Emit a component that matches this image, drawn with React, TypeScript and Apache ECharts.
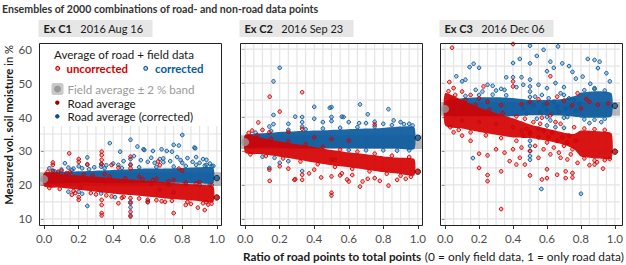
import React, { useEffect, useRef } from "react";
import * as echarts from "echarts";

// ---------- data ----------
const panelIds = ["Ex C1", "Ex C2", "Ex C3"];
const panelDates = ["2016 Aug 16", "2016 Sep 23", "2016 Dec 06"];
const fieldAvg = [21.7, 32.6, 42.4];
const bandHalf = 2;
const roadAvg = [16.3, 23.9, 29.8];
const roadAvgCorrected = [22.0, 33.9, 43.3];
const xTicks = [0, 0.2, 0.4, 0.6, 0.8, 1];
const yTicks = [10, 20, 30, 40, 50, 60];
const gridX = [0, 0.05, 0.1, 0.15, 0.2, 0.25, 0.3, 0.35, 0.4, 0.45, 0.5, 0.55, 0.6, 0.65, 0.7, 0.75, 0.8, 0.85, 0.9, 0.95, 1];
const gridY = [10, 15, 20, 25, 30, 35, 40, 45, 50, 55, 60];

// dense cores: [ratio, low, high]
const coreRedC1 = [[0.0, 19.5, 23.6], [0.1, 19.2, 23.2], [0.2, 18.6, 22.8], [0.3, 18.0, 22.4], [0.4, 17.4, 22.0], [0.5, 17.0, 21.6], [0.6, 16.5, 21.2], [0.7, 16.0, 20.8], [0.8, 15.6, 20.4], [0.9, 15.2, 20.0], [0.98, 15.0, 19.6]];
const coreBlueC1 = [[0.0, 20.5, 23.4], [0.1, 20.5, 23.8], [0.2, 20.6, 24.0], [0.3, 20.6, 24.2], [0.4, 20.5, 24.4], [0.5, 20.5, 24.6], [0.6, 20.6, 24.8], [0.7, 20.6, 24.8], [0.8, 20.6, 25.0], [0.9, 20.5, 25.2], [0.98, 20.5, 25.0]];
const coreRedC2 = [[0.0, 29.5, 34.8], [0.1, 29.0, 33.8], [0.2, 28.3, 32.8], [0.3, 27.5, 32.0], [0.4, 26.6, 31.2], [0.5, 25.8, 30.3], [0.6, 25.2, 29.6], [0.7, 24.5, 29.0], [0.8, 23.8, 28.4], [0.9, 23.2, 28.0], [0.98, 22.8, 27.6]];
const coreBlueC2 = [[0.0, 31.0, 34.6], [0.1, 31.0, 35.2], [0.2, 30.9, 35.6], [0.3, 30.8, 35.8], [0.4, 30.8, 36.0], [0.5, 30.8, 36.2], [0.6, 30.8, 36.4], [0.7, 30.7, 36.6], [0.8, 30.7, 36.8], [0.9, 30.6, 37.2], [0.98, 30.6, 37.0]];
const coreRedC3 = [[0.0, 37.5, 47.0], [0.1, 36.6, 45.0], [0.2, 35.6, 42.8], [0.3, 34.8, 41.2], [0.4, 34.0, 39.6], [0.5, 33.8, 37.8], [0.6, 33.0, 36.6], [0.7, 31.8, 35.4], [0.76, 30.5, 35.0], [0.8, 28.4, 36.0], [0.9, 27.8, 35.8], [0.98, 27.8, 35.2]];
const coreBlueC3 = [[0.0, 40.5, 44.5], [0.1, 40.2, 45.5], [0.2, 40.2, 45.8], [0.3, 40.2, 45.8], [0.4, 40.2, 45.6], [0.5, 40.6, 45.0], [0.6, 40.6, 45.0], [0.7, 40.4, 45.4], [0.78, 40.0, 46.5], [0.8, 39.8, 47.2], [0.9, 39.8, 47.6], [0.98, 40.2, 47.0]];

// individual points: [ratio, soil moisture]
const ptsBlueC1 = [[0.03, 24.9], [0.05, 24.2], [0.08, 23.9], [0.1, 24.5], [0.12, 26.4], [0.14, 25.1], [0.14, 18.0], [0.17, 24.8], [0.2, 18.0], [0.21, 19.2], [0.2, 25.5], [0.22, 17.4], [0.22, 24.9], [0.25, 28.1], [0.25, 13.8], [0.25, 26.0], [0.29, 25.2], [0.33, 26.2], [0.33, 25.4], [0.33, 17.5], [0.36, 25.8], [0.38, 32.3], [0.4, 26.3], [0.41, 16.4], [0.43, 25.9], [0.44, 29.8], [0.46, 27.0], [0.5, 33.3], [0.5, 11.0], [0.5, 13.4], [0.5, 15.0], [0.5, 27.6], [0.5, 26.0], [0.52, 28.5], [0.54, 31.3], [0.56, 27.3], [0.575, 30.5], [0.58, 30.3], [0.6, 15.1], [0.6, 26.8], [0.62, 28.0], [0.63, 30.0], [0.64, 26.5], [0.67, 27.6], [0.67, 18.6], [0.68, 30.5], [0.69, 26.7], [0.69, 27.8], [0.71, 30.0], [0.73, 27.0], [0.74, 29.8], [0.75, 31.8], [0.75, 17.8], [0.77, 28.2], [0.78, 31.6], [0.79, 27.3], [0.8, 34.7], [0.8, 26.5], [0.83, 27.9], [0.86, 26.8], [0.875, 30.8], [0.87, 31.0], [0.88, 28.2], [0.9, 26.5], [0.92, 27.6], [0.94, 27.4], [0.94, 25.9], [0.96, 26.3], [0.98, 25.6]];
const edgeBlueC1 = [[0.06, 24.0], [0.16, 24.4], [0.26, 24.6], [0.35, 24.9], [0.45, 25.0], [0.55, 25.2], [0.65, 25.3], [0.75, 25.4], [0.82, 25.6], [0.88, 25.9], [0.93, 25.7], [0.97, 25.5], [0.62, 20.2], [0.72, 20.1], [0.82, 20.2], [0.9, 20.0], [0.96, 20.1]];
const ptsRedC1 = [[0.05, 26.6], [0.05, 25.9], [0.05, 24.0], [0.1, 24.2], [0.145, 29.3], [0.15, 23.8], [0.16, 17.1], [0.18, 17.6], [0.2, 27.6], [0.2, 26.8], [0.2, 16.4], [0.2, 15.6], [0.25, 26.0], [0.3, 17.2], [0.333, 29.8], [0.333, 28.8], [0.333, 27.4], [0.333, 26.1], [0.333, 15.6], [0.333, 14.1], [0.333, 11.7], [0.333, 11.0], [0.35, 23.2], [0.39, 25.9], [0.39, 16.6], [0.43, 25.1], [0.43, 14.6], [0.45, 16.2], [0.5, 28.3], [0.5, 25.9], [0.5, 24.9], [0.5, 16.1], [0.5, 14.6], [0.5, 12.1], [0.5, 10.7], [0.55, 22.4], [0.6, 15.6], [0.6, 14.9], [0.65, 21.8], [0.66, 26.9], [0.67, 25.8], [0.68, 15.2], [0.7, 15.0], [0.75, 21.5], [0.75, 11.7], [0.78, 24.8], [0.8, 24.2], [0.82, 14.1], [0.85, 14.4], [0.89, 13.3], [0.9, 20.8], [0.93, 12.6], [0.94, 14.9], [0.95, 14.2]];
const edgeRedC1 = [[0.02, 23.9], [0.08, 23.6], [0.13, 23.5], [0.23, 23.1], [0.28, 22.8], [0.38, 22.4], [0.47, 22.0], [0.57, 21.7], [0.63, 21.4], [0.72, 21.1], [0.82, 20.7], [0.88, 20.4], [0.97, 20.0], [0.03, 19.1], [0.09, 18.8], [0.17, 18.2], [0.27, 17.6], [0.36, 16.9], [0.46, 16.5], [0.55, 16.0], [0.65, 15.5], [0.74, 15.3], [0.83, 15.0], [0.92, 14.6], [0.97, 14.5]];
const ptsBlueC2 = [[0.2, 54.5], [0.164, 50.5], [0.164, 40.6], [0.164, 37.9], [0.4, 43.0], [0.49, 42.7], [0.5, 42.9], [0.665, 43.7], [0.71, 40.8], [0.83, 42.3], [0.29, 40.1], [0.5, 40.0], [0.56, 40.1], [0.57, 40.0], [0.33, 40.0], [0.33, 38.5], [0.33, 37.2], [0.14, 37.2], [0.25, 38.0], [0.4, 39.5], [0.45, 38.5], [0.5, 38.8], [0.6, 38.5], [0.66, 38.2], [0.7, 38.2], [0.75, 38.6], [0.8, 38.0], [0.86, 39.0], [0.9, 38.5], [0.95, 38.0], [0.33, 24.1], [0.14, 25.0], [0.2, 26.5], [0.25, 27.0], [0.5, 27.5], [0.52, 27.4], [0.17, 28.0], [0.1, 28.3]];
const edgeBlueC2 = [[0.06, 35.4], [0.15, 35.9], [0.25, 36.2], [0.35, 36.4], [0.45, 36.6], [0.55, 36.8], [0.65, 37.0], [0.75, 37.2], [0.85, 37.6], [0.92, 37.9], [0.97, 37.5], [0.6, 30.3], [0.7, 30.2], [0.8, 30.2], [0.88, 30.1], [0.95, 30.2]];
const ptsRedC2 = [[0.142, 46.0], [0.33, 47.3], [0.2, 41.6], [0.076, 38.4], [0.04, 36.0], [0.1, 36.2], [0.14, 35.5], [0.25, 35.6], [0.33, 36.5], [0.4, 34.0], [0.5, 33.5], [0.6, 33.0], [0.75, 37.8], [0.142, 21.2], [0.285, 21.5], [0.33, 21.5], [0.37, 23.4], [0.44, 22.2], [0.29, 21.7], [0.5, 17.7], [0.5, 16.9], [0.83, 19.8], [0.665, 19.5], [0.59, 21.6], [0.62, 22.9], [0.56, 23.4], [0.6, 21.0], [0.68, 21.0], [0.14, 24.5], [0.2, 25.5], [0.25, 24.8], [0.33, 23.0], [0.4, 24.5], [0.5, 22.5], [0.55, 22.8], [0.71, 21.8], [0.75, 22.0], [0.78, 21.2], [0.88, 21.5], [0.93, 21.8]];
const edgeRedC2 = [[0.02, 35.3], [0.07, 34.6], [0.15, 33.6], [0.25, 32.8], [0.35, 32.0], [0.45, 31.2], [0.55, 30.4], [0.65, 29.8], [0.75, 29.2], [0.85, 28.6], [0.95, 28.2], [0.03, 29.0], [0.12, 28.5], [0.22, 27.8], [0.32, 26.9], [0.42, 26.1], [0.52, 25.3], [0.62, 24.7], [0.72, 24.0], [0.82, 23.3], [0.9, 22.7], [0.96, 22.4]];
const ptsBlueC3 = [[0.168, 55.7], [0.144, 54.7], [0.2, 54.5], [0.4, 55.9], [0.44, 57.1], [0.36, 51.7], [0.4, 51.7], [0.45, 51.7], [0.066, 52.0], [0.1, 50.5], [0.12, 51.0], [0.25, 49.5], [0.28, 49.2], [0.33, 48.3], [0.35, 48.0], [0.5, 61.0], [0.58, 59.8], [0.665, 60.8], [0.54, 58.0], [0.5, 55.8], [0.62, 56.3], [0.69, 55.8], [0.75, 53.3], [0.84, 57.1], [0.88, 56.8], [0.91, 56.3], [0.9, 54.4], [0.95, 52.9], [0.97, 50.5], [0.6, 53.5], [0.64, 54.5], [0.73, 55.0], [0.81, 51.9], [0.77, 51.3], [0.855, 49.8], [0.88, 48.5], [0.5, 51.0], [0.5, 49.0], [0.5, 47.5], [0.5, 45.9], [0.55, 49.5], [0.6, 48.5], [0.65, 50.0], [0.7, 48.8], [0.18, 48.0], [0.22, 47.5], [0.3, 47.8], [0.42, 48.8], [0.46, 49.5], [0.164, 27.9], [0.567, 18.8], [0.8, 17.4], [0.5, 35.0], [0.5, 33.0], [0.5, 31.5], [0.5, 30.0], [0.5, 28.5], [0.5, 27.4], [0.45, 36.0], [0.55, 36.5], [0.6, 37.5], [0.65, 37.0], [0.7, 36.8], [0.3, 38.0], [0.2, 38.5], [0.1, 39.0], [0.85, 38.2], [0.92, 38.5], [0.4, 37.0], [0.48, 41.0], [0.52, 43.5], [0.54, 39.5], [0.57, 46.5], [0.6, 42.0], [0.62, 39.0], [0.64, 44.5], [0.67, 41.5], [0.7, 46.5], [0.72, 40.0], [0.74, 43.0], [0.76, 45.0], [0.46, 42.5], [0.49, 44.0], [0.53, 46.0], [0.56, 41.5], [0.58, 43.5], [0.61, 45.5], [0.63, 41.0], [0.66, 43.0], [0.68, 47.0], [0.71, 42.5], [0.73, 45.5], [0.77, 42.0], [0.79, 44.0]];
const edgeBlueC3 = [[0.04, 45.2], [0.12, 46.2], [0.2, 46.5], [0.28, 46.6], [0.36, 46.4], [0.82, 47.9], [0.88, 48.2], [0.94, 47.8], [0.82, 39.3], [0.88, 39.2], [0.94, 39.5], [0.6, 40.0], [0.7, 39.8]];
const ptsRedC3 = [[0.041, 60.4], [0.4, 61.5], [0.025, 50.3], [0.226, 49.0], [0.4, 50.5], [0.4, 49.0], [0.05, 48.5], [0.1, 47.5], [0.15, 46.5], [0.2, 45.5], [0.25, 44.5], [0.33, 43.5], [0.45, 43.8], [0.5, 44.5], [0.55, 45.2], [0.6, 44.0], [0.62, 52.0], [0.66, 46.0], [0.7, 44.8], [0.75, 43.5], [0.78, 47.0], [0.8, 42.5], [0.83, 45.3], [0.85, 44.5], [0.9, 43.6], [0.96, 44.0], [0.2, 29.2], [0.25, 28.7], [0.2, 25.0], [0.25, 22.9], [0.25, 21.1], [0.33, 24.0], [0.38, 27.0], [0.42, 26.0], [0.44, 28.0], [0.47, 26.0], [0.33, 12.9], [0.5, 22.8], [0.57, 21.6], [0.6, 24.6], [0.66, 23.0], [0.75, 23.5], [0.75, 22.2], [0.93, 24.8], [0.895, 26.7], [0.71, 24.0], [0.71, 22.0], [0.6, 22.0], [0.3, 30.5], [0.35, 29.5], [0.15, 33.0], [0.1, 34.5], [0.05, 35.5], [0.55, 28.0], [0.5, 30.0], [0.62, 29.0], [0.68, 28.0], [0.72, 27.5], [0.78, 26.5], [0.85, 25.8], [0.88, 26.0], [0.45, 31.0], [0.4, 30.5], [0.48, 36.5], [0.52, 38.5], [0.55, 34.0], [0.58, 36.0], [0.6, 32.5], [0.63, 35.5], [0.66, 33.0], [0.68, 38.0], [0.7, 31.5], [0.73, 34.5], [0.75, 30.5], [0.76, 37.0], [0.46, 34.5], [0.5, 35.5], [0.53, 31.5], [0.56, 38.0], [0.58, 30.5], [0.61, 34.0], [0.64, 31.0], [0.65, 38.5], [0.67, 29.5], [0.69, 34.0], [0.72, 32.5], [0.74, 29.0], [0.77, 33.0], [0.47, 39.5], [0.57, 39.8], [0.62, 40.5]];
const edgeRedC3 = [[0.02, 47.6], [0.06, 46.5], [0.12, 45.0], [0.18, 43.6], [0.26, 42.2], [0.34, 41.2], [0.42, 40.2], [0.82, 36.6], [0.88, 36.4], [0.94, 36.2], [0.03, 37.0], [0.08, 36.2], [0.15, 35.5], [0.24, 34.6], [0.33, 33.8], [0.42, 33.0], [0.82, 27.8], [0.88, 27.2], [0.94, 27.3], [0.97, 27.6]];

const coresRed = [coreRedC1, coreRedC2, coreRedC3];
const coresBlue = [coreBlueC1, coreBlueC2, coreBlueC3];
const ptsRed = [ptsRedC1.concat(edgeRedC1), ptsRedC2.concat(edgeRedC2), ptsRedC3.concat(edgeRedC3)];
const ptsBlue = [ptsBlueC1.concat(edgeBlueC1), ptsBlueC2.concat(edgeBlueC2), ptsBlueC3.concat(edgeBlueC3)];

// ---------- layout / style ----------
const FONT = "Lato, 'Noto Sans', sans-serif";
const RED = "#d50000";
const BLUE = "#0a5a9e";
const PANEL_LEFT = [39, 240, 440];
const PANEL_TOP = 43;
const PANEL_W = 183;
const PANEL_H = 183;
const X_MIN = -0.03;
const X_MAX = 1.03;
const Y_MIN = 7.9;
const Y_MAX = 61.8;
const FS = 11.6;

function buildOption() {
  const grid: any[] = [];
  const xAxis: any[] = [];
  const yAxis: any[] = [];
  const series: any[] = [];
  const graphic: any[] = [];

  for (let i = 0; i < 3; i++) {
    grid.push({ left: PANEL_LEFT[i], top: PANEL_TOP, width: PANEL_W, height: PANEL_H, containLabel: false });
    xAxis.push({
      type: "value", gridIndex: i, min: X_MIN, max: X_MAX,
      axisLine: { show: false },
      axisTick: { show: true, customValues: xTicks, length: 3, lineStyle: { color: "#333", width: 1 } },
      axisLabel: { show: true, customValues: xTicks, formatter: (v: number) => v.toFixed(1), fontSize: FS, fontFamily: FONT, color: "#4d4d4d", margin: 6 },
      splitLine: { show: false },
    });
    yAxis.push({
      type: "value", gridIndex: i, min: Y_MIN, max: Y_MAX,
      axisLine: { show: false },
      axisTick: { show: true, customValues: yTicks, length: 3, lineStyle: { color: "#333", width: 1 } },
      axisLabel: { show: i === 0, customValues: yTicks, fontSize: FS, fontFamily: FONT, color: "#4d4d4d", margin: 7 },
      splitLine: { show: false },
    });

    const base = { xAxisIndex: i, yAxisIndex: i, silent: true, animation: false };
    // grid lines
    series.push({
      ...base, type: "custom", z: 1,
      data: gridX.map((v) => [v, Y_MIN, Y_MAX]),
      encode: { x: 0, y: [1, 2] },
      renderItem: (p: any, api: any) => {
        const a = api.coord([api.value(0), api.value(1)]);
        const b = api.coord([api.value(0), api.value(2)]);
        return { type: "line", shape: { x1: a[0], y1: a[1], x2: b[0], y2: b[1] }, style: { stroke: "#e4e4e4", lineWidth: 1.2 } };
      },
    });
    series.push({
      ...base, type: "custom", z: 1,
      data: gridY.map((v) => [X_MIN, X_MAX, v]),
      encode: { x: [0, 1], y: 2 },
      renderItem: (p: any, api: any) => {
        const a = api.coord([api.value(0), api.value(2)]);
        const b = api.coord([api.value(1), api.value(2)]);
        return { type: "line", shape: { x1: a[0], y1: a[1], x2: b[0], y2: b[1] }, style: { stroke: "#e4e4e4", lineWidth: 1.2 } };
      },
    });
    // field average band
    series.push({
      ...base, type: "custom", z: 2,
      data: [[X_MIN, X_MAX, fieldAvg[i] - bandHalf, fieldAvg[i] + bandHalf]],
      encode: { x: [0, 1], y: [2, 3] },
      renderItem: (p: any, api: any) => {
        const a = api.coord([api.value(0), api.value(3)]);
        const b = api.coord([api.value(1), api.value(2)]);
        return { type: "rect", shape: { x: a[0], y: a[1], width: b[0] - a[0], height: b[1] - a[1] }, style: { fill: "rgba(140,140,140,0.6)" } };
      },
    });
    const corePoly = (core: number[][], fill: string, z: number) => ({
      ...base, type: "custom", z,
      data: core,
      encode: { x: 0, y: [1, 2] },
      renderItem: (p: any, api: any) => {
        if (p.dataIndex !== 0) return null;
        const upper = core.map((r) => api.coord([r[0], r[2]]));
        const lower = core.slice().reverse().map((r) => api.coord([r[0], r[1]]));
        return { type: "polygon", shape: { points: upper.concat(lower), smooth: 0.2 }, style: { fill } };
      },
    });
    const pts = (data: number[][], col: string, fill: string, z: number) => ({
      ...base, type: "scatter", z, data, symbol: "circle", symbolSize: 3.6,
      itemStyle: { color: fill, borderColor: col, borderWidth: 1, opacity: 1 },
    });
    series.push(corePoly(coresBlue[i], "rgba(10,90,158,0.92)", 3));
    series.push(pts(ptsBlue[i], BLUE, "rgba(10,90,158,0.3)", 4));
    series.push(corePoly(coresRed[i], "rgba(213,0,0,0.92)", 5));
    series.push(pts(ptsRed[i], RED, "rgba(213,0,0,0.3)", 6));
    // averages
    series.push({ ...base, type: "scatter", z: 7, data: [[0, fieldAvg[i]]], symbol: "circle", symbolSize: 8, itemStyle: { color: "#999999" } });
    series.push({ ...base, type: "scatter", z: 7, data: [[1, roadAvg[i]]], symbol: "circle", symbolSize: 5.5, itemStyle: { color: "#c00000", borderColor: "#111", borderWidth: 1 } });
    series.push({ ...base, type: "scatter", z: 7, data: [[1, roadAvgCorrected[i]]], symbol: "circle", symbolSize: 5.5, itemStyle: { color: "#0a5a9e", borderColor: "#111", borderWidth: 1 } });

    // panel border
    graphic.push({ type: "rect", z: 150, shape: { x: PANEL_LEFT[i] + 0.5, y: PANEL_TOP + 0.5, width: PANEL_W - 1, height: PANEL_H - 1 }, style: { fill: "none", stroke: "#222", lineWidth: 1 } });
    // strip
    graphic.push({ type: "rect", z: 100, shape: { x: PANEL_LEFT[i] - 0.5, y: 20, width: 114, height: 17 }, style: { fill: "#e6e6e6" } });
    graphic.push({
      type: "text", z: 101, x: PANEL_LEFT[i] + 4.5, y: 28.5,
      style: {
        text: "{b|" + panelIds[i] + "}   " + panelDates[i],
        rich: { b: { fontWeight: "bold", fontSize: 11, fontFamily: FONT, fill: "#1a1a1a" } },
        fontSize: 11, fontFamily: FONT, fill: "#1a1a1a", verticalAlign: "middle",
      },
    });
  }

  // title
  graphic.push({ type: "text", z: 100, x: 2, y: 8.5, style: { text: "Ensembles of 2000 combinations of road- and non-road data points", fontSize: 10.6, fontWeight: "bold", fontFamily: FONT, fill: "#333", verticalAlign: "middle" } });
  // y axis title
  graphic.push({
    type: "text", z: 100, x: 8, y: 125, rotation: Math.PI / 2,
    style: {
      text: "{b|Measured vol. soil moisture} in %",
      rich: { b: { fontWeight: "bold", fontSize: 11.2, fontFamily: FONT, fill: "#1a1a1a" } },
      fontSize: 11.2, fontFamily: FONT, fill: "#1a1a1a", align: "center", verticalAlign: "middle",
    },
  });
  // x axis title
  graphic.push({
    type: "text", z: 100, x: 624, y: 256,
    style: {
      text: "{b|Ratio of road points to total points} (0 = only field data, 1 = only road data)",
      rich: { b: { fontWeight: "bold", fontSize: 11.7, fontFamily: FONT, fill: "#1a1a1a" } },
      fontSize: 11.9, fontFamily: FONT, fill: "#1a1a1a", align: "right", verticalAlign: "middle",
    },
  });

  // legend (inside panel 1)
  graphic.push({ type: "rect", z: 100, shape: { x: 40, y: 44, width: 181, height: 82 }, style: { fill: "#ffffff" } });
  const lt = (text: string, x: number, y: number, fill: string, bold = false) =>
    graphic.push({ type: "text", z: 101, x, y, style: { text, fontSize: bold ? 11.4 : 11.6, fontWeight: bold ? "bold" : "normal", fontFamily: FONT, fill, verticalAlign: "middle" } });
  lt("Average of road + field data", 54, 54.5, "#1a1a1a");
  graphic.push({ type: "circle", z: 101, shape: { cx: 57.7, cy: 68.3, r: 1.9 }, style: { fill: "rgba(213,0,0,0.25)", stroke: RED, lineWidth: 1.1 } });
  lt("uncorrected", 66.5, 68.5, RED, true);
  graphic.push({ type: "circle", z: 101, shape: { cx: 145.7, cy: 68.3, r: 1.9 }, style: { fill: "rgba(10,90,158,0.25)", stroke: BLUE, lineWidth: 1.1 } });
  lt("corrected", 155, 68.5, BLUE, true);
  graphic.push({ type: "rect", z: 101, shape: { x: 51.5, y: 83, width: 12, height: 12, r: 2 }, style: { fill: "#c9c9c9" } });
  graphic.push({ type: "circle", z: 102, shape: { cx: 57.5, cy: 89, r: 3.5 }, style: { fill: "#999999" } });
  lt("Field average \u00b1 2 % band", 67.5, 89.5, "#9a9a9a");
  graphic.push({ type: "circle", z: 101, shape: { cx: 57.3, cy: 102.7, r: 2.2 }, style: { fill: "#a00000" } });
  lt("Road average", 67.5, 103, "#1a1a1a");
  graphic.push({ type: "circle", z: 101, shape: { cx: 57.3, cy: 116.3, r: 2.2 }, style: { fill: "#0b4f8a" } });
  lt("Road average (corrected)", 67.5, 116.5, "#1a1a1a");

  return { animation: false, backgroundColor: "#ffffff", grid, xAxis, yAxis, series, graphic };
}

export default function App() {
  const ref = useRef<HTMLDivElement>(null);
  useEffect(() => {
    if (!ref.current) return;
    const chart = echarts.init(ref.current, null, { renderer: "svg", width: 626, height: 265 });
    chart.setOption(buildOption() as any);
    return () => chart.dispose();
  }, []);
  return <div ref={ref} style={{ position: "fixed", left: 0, top: 0, width: 626, height: 265 }} />;
}
